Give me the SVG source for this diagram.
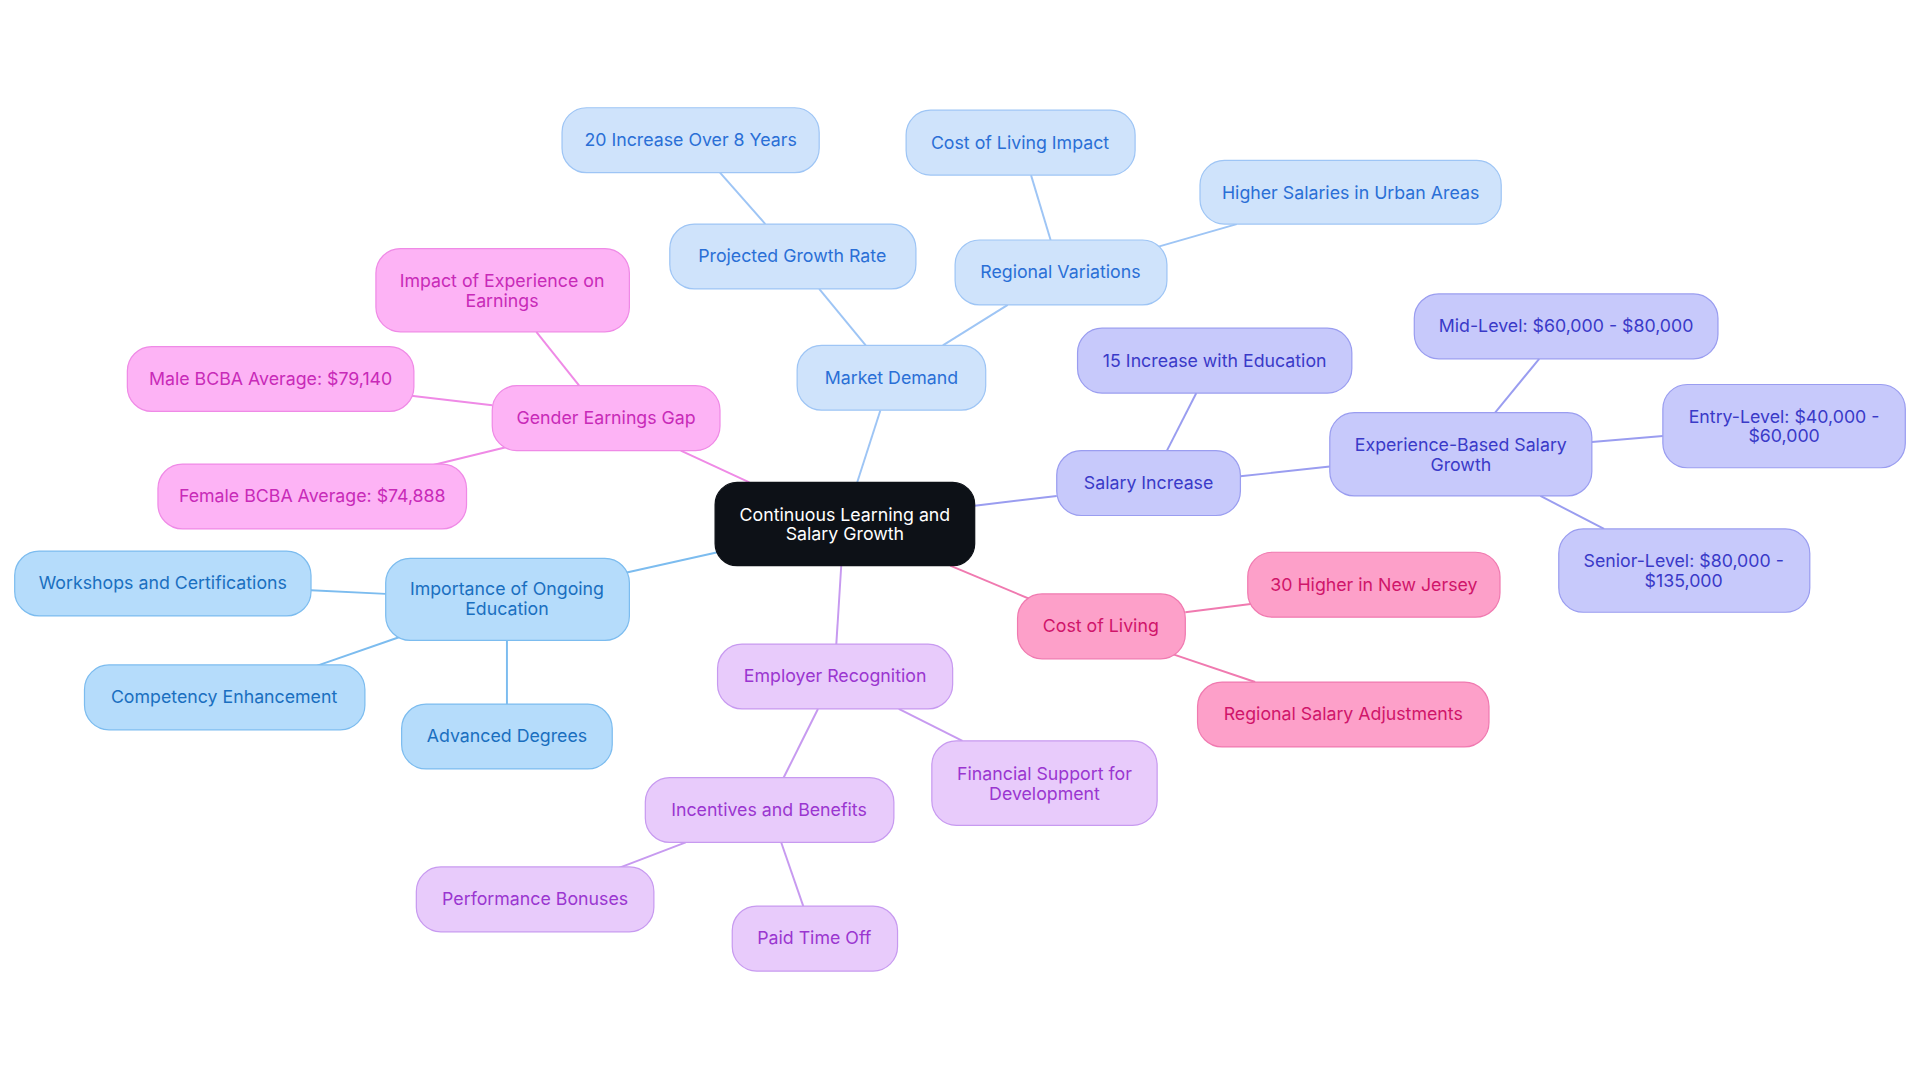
<svg xmlns="http://www.w3.org/2000/svg" width="1920" height="1083" viewBox="0 0 1920 1083">
<style>
text{font-family:Inter,"Noto Sans","Liberation Sans",sans-serif;font-size:14.5px;text-anchor:middle;dominant-baseline:central}
rect{stroke-width:1}
.c rect{fill:#0d1117;stroke:#0d1117}.c text{fill:#fff}
.b rect{fill:#cfe3fb;stroke:#9ec5f5}.b text{fill:#2a6fd6}
.v rect{fill:#c7c9fb;stroke:#9a9df0}.v text{fill:#3a3ac8}
.p rect{fill:#fda0c9;stroke:#f07ab0}.p text{fill:#d0156a}
.l rect{fill:#e8cbfb;stroke:#c79af0}.l text{fill:#9a36d0}
.s rect{fill:#b5dcfb;stroke:#7cbcef}.s text{fill:#1a6fc0}
.m rect{fill:#fdb3f5;stroke:#ef8ae6}.m text{fill:#c82ab8}
#edges line{stroke-width:1.6}
</style>
<rect width="1920" height="1083" fill="#fff"/>
<g transform="scale(1.22449)">
<g id="edges">
<g stroke="#9ec5f5"><line x1="700" y1="394" x2="719" y2="335"/><line x1="707" y1="282" x2="669" y2="236"/><line x1="625" y1="183" x2="588" y2="141"/><line x1="770" y1="282" x2="823" y2="249"/><line x1="858" y1="196" x2="842" y2="143"/><line x1="944" y1="202" x2="1010" y2="183"/></g>
<g stroke="#9a9df0"><line x1="796" y1="413" x2="863" y2="405"/><line x1="953" y1="368" x2="977" y2="321"/><line x1="1013" y1="389" x2="1086" y2="381"/><line x1="1221" y1="337" x2="1257" y2="293"/><line x1="1300" y1="361" x2="1358" y2="356"/><line x1="1258" y1="405" x2="1310" y2="432"/></g>
<g stroke="#f07ab0"><line x1="776" y1="462" x2="843" y2="490"/><line x1="968" y1="500" x2="1023" y2="493"/><line x1="957" y1="534" x2="1025" y2="557"/></g>
<g stroke="#c79af0"><line x1="687" y1="462" x2="683" y2="526"/><line x1="668" y1="579" x2="640" y2="635"/><line x1="734" y1="579" x2="786" y2="605"/><line x1="560" y1="688" x2="505" y2="709"/><line x1="638" y1="688" x2="656" y2="740"/></g>
<g stroke="#7cbcef"><line x1="586" y1="451" x2="510" y2="468"/><line x1="315" y1="485" x2="254" y2="482"/><line x1="327" y1="520" x2="258" y2="544"/><line x1="414" y1="523" x2="414" y2="575"/></g>
<g stroke="#ef8ae6"><line x1="612" y1="394" x2="556" y2="368"/><line x1="473" y1="315" x2="438" y2="271"/><line x1="402" y1="331" x2="334" y2="323"/><line x1="414" y1="365" x2="353" y2="380"/></g>
</g>
<g id="center" class="c"><rect x="584" y="394" width="212" height="68" rx="18"/><text x="690" y="420">Continuous Learning and</text><text x="690" y="436">Salary Growth</text></g>
<g id="market" class="b"><rect x="651" y="282" width="154" height="53" rx="20"/><text x="728" y="308">Market Demand</text></g>
<g id="proj" class="b"><rect x="547" y="183" width="201" height="53" rx="20"/><text x="647" y="209">Projected Growth Rate</text></g>
<g id="inc20" class="b"><rect x="459" y="88" width="210" height="53" rx="20"/><text x="564" y="114">20 Increase Over 8 Years</text></g>
<g id="regional" class="b"><rect x="780" y="196" width="173" height="53" rx="20"/><text x="866" y="222">Regional Variations</text></g>
<g id="colimpact" class="b"><rect x="740" y="90" width="187" height="53" rx="20"/><text x="833" y="116">Cost of Living Impact</text></g>
<g id="urban" class="b"><rect x="980" y="131" width="246" height="52" rx="20"/><text x="1103" y="157">Higher Salaries in Urban Areas</text></g>
<g id="salary" class="v"><rect x="863" y="368" width="150" height="53" rx="20"/><text x="938" y="394">Salary Increase</text></g>
<g id="edu15" class="v"><rect x="880" y="268" width="224" height="53" rx="20"/><text x="992" y="294">15 Increase with Education</text></g>
<g id="exp" class="v"><rect x="1086" y="337" width="214" height="68" rx="20"/><text x="1193" y="363">Experience-Based Salary</text><text x="1193" y="379">Growth</text></g>
<g id="mid" class="v"><rect x="1155" y="240" width="248" height="53" rx="20"/><text x="1279" y="266">Mid-Level: $60,000 - $80,000</text></g>
<g id="entry" class="v"><rect x="1358" y="314" width="198" height="68" rx="20"/><text x="1457" y="340">Entry-Level: $40,000 -</text><text x="1457" y="356">$60,000</text></g>
<g id="senior" class="v"><rect x="1273" y="432" width="205" height="68" rx="20"/><text x="1375" y="458">Senior-Level: $80,000 -</text><text x="1375" y="474">$135,000</text></g>
<g id="col" class="p"><rect x="831" y="485" width="137" height="53" rx="20"/><text x="899" y="511">Cost of Living</text></g>
<g id="nj" class="p"><rect x="1019" y="451" width="206" height="53" rx="20"/><text x="1122" y="477">30 Higher in New Jersey</text></g>
<g id="rsa" class="p"><rect x="978" y="557" width="238" height="53" rx="20"/><text x="1097" y="583">Regional Salary Adjustments</text></g>
<g id="employer" class="l"><rect x="586" y="526" width="192" height="53" rx="20"/><text x="682" y="552">Employer Recognition</text></g>
<g id="incent" class="l"><rect x="527" y="635" width="203" height="53" rx="20"/><text x="628" y="661">Incentives and Benefits</text></g>
<g id="fin" class="l"><rect x="761" y="605" width="184" height="69" rx="20"/><text x="853" y="632">Financial Support for</text><text x="853" y="648">Development</text></g>
<g id="perf" class="l"><rect x="340" y="708" width="194" height="53" rx="20"/><text x="437" y="734">Performance Bonuses</text></g>
<g id="pto" class="l"><rect x="598" y="740" width="135" height="53" rx="20"/><text x="665" y="766">Paid Time Off</text></g>
<g id="importance" class="s"><rect x="315" y="456" width="199" height="67" rx="20"/><text x="414" y="481">Importance of Ongoing</text><text x="414" y="497">Education</text></g>
<g id="workshops" class="s"><rect x="12" y="450" width="242" height="53" rx="20"/><text x="133" y="476">Workshops and Certifications</text></g>
<g id="comp" class="s"><rect x="69" y="543" width="229" height="53" rx="20"/><text x="183" y="569">Competency Enhancement</text></g>
<g id="adv" class="s"><rect x="328" y="575" width="172" height="53" rx="20"/><text x="414" y="601">Advanced Degrees</text></g>
<g id="gender" class="m"><rect x="402" y="315" width="186" height="53" rx="20"/><text x="495" y="341">Gender Earnings Gap</text></g>
<g id="impact" class="m"><rect x="307" y="203" width="207" height="68" rx="20"/><text x="410" y="229">Impact of Experience on</text><text x="410" y="245">Earnings</text></g>
<g id="male" class="m"><rect x="104" y="283" width="234" height="53" rx="20"/><text x="221" y="309">Male BCBA Average: $79,140</text></g>
<g id="female" class="m"><rect x="129" y="379" width="252" height="53" rx="20"/><text x="255" y="405">Female BCBA Average: $74,888</text></g>
</g>
</svg>
